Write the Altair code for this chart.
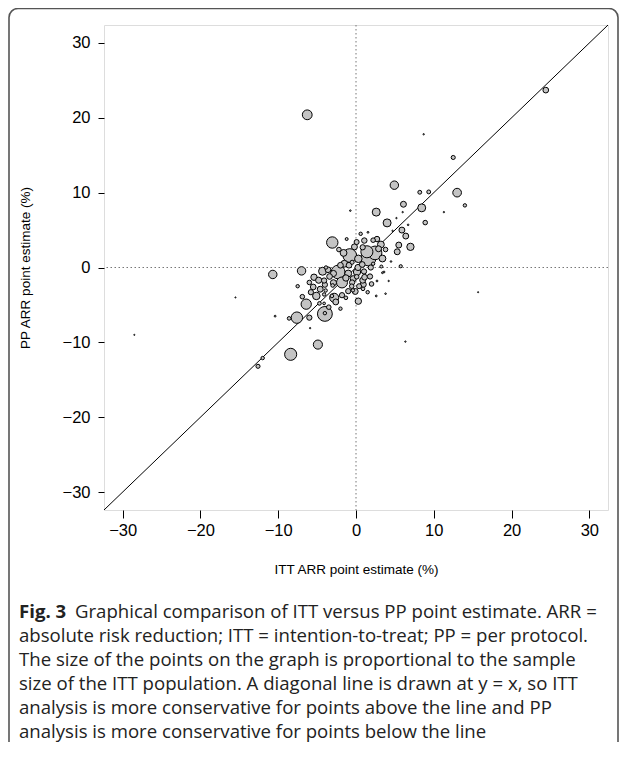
import altair as alt
import pandas as pd

# ITT vs PP ARR point estimates (%) and relative point size (proportional to ITT sample size)
itt = [24.4, 8.7, 12.5, 13.0, 8.2, 9.35, 14.0, 11.3, 8.45, 6.1, 6.0, 6.7, 8.9, 5.9, 6.4, 7.0,
       -6.27, 4.93, -0.73, 2.6, 5.2, 4.0, 4.7, 1.54, 5.5, 5.3, -3.05, -2.2, 0.08, 1.07, 2.2, 2.7,
       3.2, -0.8, -0.2, 0.86, 1.4, 2.45, 1.6, 3.4, 2.2, -1.6, -1.5, -0.5, 0.26, 4.5, 5.75, -7.0,
       -10.7, -3.86, -4.3, -5.4, -4.8, -2.3, -1.8, -0.35, 0.13, 1.1, 1.8, 0.94, 0.4, -0.1, 0.9,
       2.7, 3.4, 3.6, 4.2, 2.6, 3.8, 0.3, -3.0, -4.0, -4.6, -5.1, -4.1, -2.8, -2.6, -1.8, -1.3,
       -3.1, -6.4, -6.9, -4.7, -4.1, -7.6, -8.6, -6.0, -4.0, -4.0, -10.4, -5.9, -4.9, -15.5, 6.35,
       -8.4, -28.5, -12.0, -12.6, 15.7, 0.3, 3.26, 1.03, 0.86, 0.09, -4.1, -2.9, -3.9, -1.0, -0.4,
       -2.9, -5.5, -0.55,
       -3.6, -2.0, -1.0, -0.9, 0.8, 1.9, 2.9, 3.8, -0.5, -1.3, -3.4, -6.0, -5.8, -3.5, -2.0,
       1.5, 2.0, -7.5, 0.6, -1.2]
pp = [23.7, 17.8, 14.7, 10.0, 10.05, 10.1, 8.3, 7.4, 7.97, 8.45, 7.4, 5.7, 6.0, 5.0, 4.2, 2.76,
      20.4, 11.0, 7.6, 7.4, 6.6, 5.96, 4.9, 4.7, 3.0, 2.1, 3.34, 2.4, 3.4, 3.6, 3.65, 3.8,
      3.07, 1.6, 2.76, 2.7, 2.1, 1.95, 1.2, 1.2, 0.5, 1.95, 0.5, 0.7, 0.0, 0.8, 0.17, -0.45,
      -0.93, 0.0, -0.5, -1.3, -1.7, -0.6, -2.0, -1.5, -0.6, -1.3, -1.2, -2.27, -2.5, -3.2, -2.85,
      -1.8, -0.7, -0.6, -1.8, -3.8, -3.5, -4.5, -2.4, -2.3, -2.9, -3.8, -3.6, -4.05, -4.6, -3.7, -4.05,
      -3.8, -4.9, -3.9, -4.8, -4.8, -6.7, -6.8, -6.7, -6.2, -6.1, -6.5, -8.1, -10.3, -4.0, -9.9,
      -11.6, -9.0, -12.1, -13.2, -3.3, 1.16, 0.13, -0.53, -1.7, -1.24, -1.74, -2.04, -3.07, -3.16, -3.05,
      -0.8, -2.6, -2.5,
      -0.3, 0.3, -0.8, 0.3, 0.4, 0.0, 2.5, 2.4, -2.0, -1.4, -1.2, -2.0, -3.3, -5.3, -5.5,
      -3.3, -2.2, -2.5, 4.5, 3.8]
size_n = [250, 60, 180, 380, 170, 170, 150, 60, 350, 260, 60, 70, 200, 260, 260, 320,
          430, 370, 70, 350, 60, 350, 60, 80, 260, 260, 500, 200, 220, 240, 200, 240,
          300, 600, 260, 230, 530, 600, 650, 300, 150, 300, 300, 180, 270, 70, 140, 370,
          370, 150, 350, 280, 270, 600, 480, 270, 320, 250, 230, 260, 220, 260, 160,
          80, 80, 80, 60, 80, 70, 280, 160, 230, 260, 330, 150, 400, 260, 230, 160,
          160, 450, 200, 160, 120, 500, 160, 230, 650, 150, 80, 60, 400, 50, 60,
          530, 50, 150, 180, 50, 330, 130, 230, 260, 200, 230, 270, 150, 230, 150,
          270, 250, 200,
          250, 250, 300, 250, 250, 230, 260, 200, 230, 280, 250, 200, 230, 200, 150,
          150, 200, 150, 150, 130]

ticks = [-30, -20, -10, 0, 10, 20, 30]
lim = [-32.4, 32.4]

x_title = "ITT ARR point estimate (%)"
y_title = "PP ARR point estimate (%)"
caption_bold = "Fig. 3"
caption_lines = [
    "Graphical comparison of ITT versus PP point estimate. ARR =",
    "absolute risk reduction; ITT = intention-to-treat; PP = per protocol.",
    "The size of the points on the graph is proportional to the sample",
    "size of the ITT population. A diagonal line is drawn at y = x, so ITT",
    "analysis is more conservative for points above the line and PP",
    "analysis is more conservative for points below the line",
]

pts = pd.DataFrame({"itt": itt, "pp": pp, "n": size_n}).sort_values("n", ascending=False)
pts["order"] = range(len(pts))

W, H = 504, 485
xs = alt.Scale(domain=lim, nice=False, zero=False)
ys = alt.Scale(domain=lim, nice=False, zero=False)

base_x = alt.X("itt:Q", scale=xs,
               axis=alt.Axis(values=ticks, title=x_title, grid=False, domain=False,
                             tickSize=8, tickColor="black", labelFontSize=16.5,
                             labelPadding=4, titlePadding=24, titleFontSize=13.5,
                             titleFontWeight="normal", labelColor="black",
                             titleColor="black", labelFont="Liberation Sans",
                             titleFont="Liberation Sans"))
base_y = alt.Y("pp:Q", scale=ys,
               axis=alt.Axis(values=ticks, title=y_title, grid=False, domain=False,
                             tickSize=6, tickColor="black", labelFontSize=16.5,
                             labelPadding=8, titlePadding=30, titleFontSize=13.5,
                             titleFontWeight="normal", labelColor="black",
                             titleColor="black", labelFont="Liberation Sans",
                             titleFont="Liberation Sans"))

points = alt.Chart(pts).mark_circle(opacity=1, fill="#c4c4c4", stroke="black",
                                    strokeWidth=1, fillOpacity=1).encode(
    x=base_x, y=base_y,
    size=alt.Size("n:Q", scale=alt.Scale(type="pow", exponent=2, domain=[0, 1000],
                                         range=[0, 520]), legend=None),
    order=alt.Order("order:Q"),
)

zero_df = pd.DataFrame({"z": [0]})
vline = alt.Chart(zero_df).mark_rule(color="#777", strokeDash=[1.5, 2.5], strokeWidth=1).encode(
    x=alt.X("z:Q", scale=xs))
hline = alt.Chart(zero_df).mark_rule(color="#777", strokeDash=[1.5, 2.5], strokeWidth=1).encode(
    y=alt.Y("z:Q", scale=ys))

diag_df = pd.DataFrame({"a": lim, "b": lim})
diag = alt.Chart(diag_df).mark_line(color="black", strokeWidth=1).encode(
    x=alt.X("a:Q", scale=xs), y=alt.Y("b:Q", scale=ys))

frame = alt.Chart(zero_df).mark_rect(fill=None, stroke="#555", strokeWidth=1.6,
                                     cornerRadius=9, clip=False).encode(
    x=alt.value(-95), x2=alt.value(514), y=alt.value(-16.5), y2=alt.value(760))

cap_df = pd.DataFrame({"t": caption_lines, "i": list(range(len(caption_lines)))})
cap_df["yy"] = 587 + cap_df["i"] * 24
cap_df["xx"] = [-29] + [-85] * (len(caption_lines) - 1)
caption = alt.Chart(cap_df).mark_text(align="left", baseline="middle", font="Open Sans",
                                      fontSize=18.6, color="#222").encode(
    x=alt.X("xx:Q", scale=None), y=alt.Y("yy:Q", scale=None), text="t:N")
bold_df = pd.DataFrame({"t": [caption_bold]})
caption_b = alt.Chart(bold_df).mark_text(align="left", baseline="middle", font="Open Sans",
                                         fontSize=18.6, fontWeight="bold", color="#222").encode(
    x=alt.value(-85), y=alt.value(587), text="t:N")

chart = alt.layer(frame, vline, hline, diag, points, caption, caption_b).properties(
    width=W, height=H,
    autosize=alt.AutoSizeParams(type="none"),
    padding={"left": 96, "top": 17, "right": 11, "bottom": 232},
).configure_view(stroke="black", strokeWidth=1.2).configure(background="white")

chart.save("out.html", embed_options={"renderer": "svg", "actions": False})
